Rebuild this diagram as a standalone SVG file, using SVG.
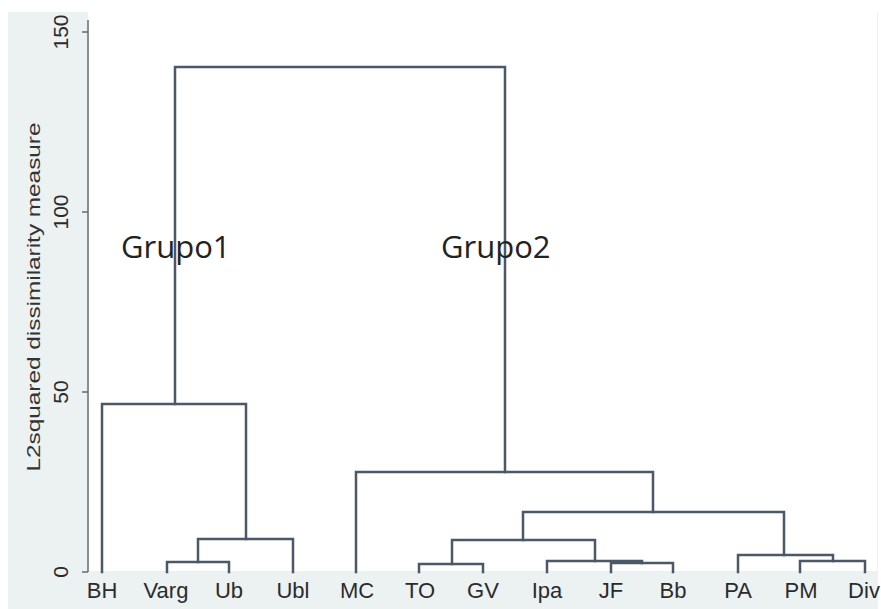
<svg xmlns="http://www.w3.org/2000/svg" width="881" height="609" viewBox="0 0 881 609">
<style>
.bg{fill:#ecf1f2}
.plot{fill:#ffffff}
.ln{stroke:#4a5868;stroke-width:2.5;fill:none;stroke-linecap:square}
.ax{stroke:#666b70;stroke-width:1.5;fill:none}
.lbl{font-family:"Liberation Sans",Arial,sans-serif;font-size:22px;fill:#2b2b2b;text-anchor:middle}
.tick{font-family:"Liberation Sans",Arial,sans-serif;font-size:21px;fill:#2b2b2b;text-anchor:middle}
.title{font-family:"Liberation Sans",Arial,sans-serif;font-size:18px;fill:#333;text-anchor:middle}
.grp{font-family:"Open Sans",sans-serif;font-size:31px;fill:#222}
</style>
<rect x="0" y="0" width="881" height="609" fill="#ffffff"/>
<rect class="bg" x="8" y="12" width="870" height="597"/>
<rect class="plot" x="88" y="12" width="789" height="559"/>
<g id="axis">
<line class="ax" x1="88" y1="20" x2="88" y2="572"/>
<line class="ax" x1="82" y1="32" x2="88" y2="32"/>
<line class="ax" x1="82" y1="212" x2="88" y2="212"/>
<line class="ax" x1="82" y1="392" x2="88" y2="392"/>
<line class="ax" x1="82" y1="572" x2="88" y2="572"/>
<text class="tick" transform="translate(68,32) rotate(-90)">150</text>
<text class="tick" transform="translate(68,212) rotate(-90)">100</text>
<text class="tick" transform="translate(68,392) rotate(-90)">50</text>
<text class="tick" transform="translate(68,572) rotate(-90)">0</text>
<text class="title" transform="translate(40,297) rotate(-90)" textLength="349" lengthAdjust="spacingAndGlyphs">L2squared dissimilarity measure</text>
</g>
<g id="connectors">
<path class="ln" d="M175 404 V67 H505 V472"/>
<path class="ln" d="M102 572 V404 H246 V539"/>
<path class="ln" d="M198 562 V539 H293 V572"/>
<path class="ln" d="M167 572 V562 H229 V572"/>
<path class="ln" d="M356 572 V472 H653 V512"/>
<path class="ln" d="M523 540 V512 H784 V555"/>
<path class="ln" d="M452 564 V540 H595 V561"/>
<path class="ln" d="M419 572 V564 H483 V572"/>
<path class="ln" d="M547 572 V561 H642 V563"/>
<path class="ln" d="M611 572 V563 H673 V572"/>
<path class="ln" d="M738 572 V555 H833 V561"/>
<path class="ln" d="M800 572 V561 H865 V572"/>
</g>
<g id="leaf-BH"><text class="lbl" x="102" y="598">BH</text></g>
<g id="leaf-Varg"><text class="lbl" x="166" y="598">Varg</text></g>
<g id="leaf-Ub"><text class="lbl" x="229" y="598">Ub</text></g>
<g id="leaf-Ubl"><text class="lbl" x="293" y="598">Ubl</text></g>
<g id="leaf-MC"><text class="lbl" x="357" y="598">MC</text></g>
<g id="leaf-TO"><text class="lbl" x="420" y="598">TO</text></g>
<g id="leaf-GV"><text class="lbl" x="483" y="598">GV</text></g>
<g id="leaf-Ipa"><text class="lbl" x="547" y="598">Ipa</text></g>
<g id="leaf-JF"><text class="lbl" x="611" y="598">JF</text></g>
<g id="leaf-Bb"><text class="lbl" x="673" y="598">Bb</text></g>
<g id="leaf-PA"><text class="lbl" x="738" y="598">PA</text></g>
<g id="leaf-PM"><text class="lbl" x="801" y="598">PM</text></g>
<g id="leaf-Div"><text class="lbl" x="864" y="598">Div</text></g>
<g id="label-Grupo1"><text class="grp" x="121" y="258">Grupo1</text></g>
<g id="label-Grupo2"><text class="grp" x="441" y="258">Grupo2</text></g>
</svg>
